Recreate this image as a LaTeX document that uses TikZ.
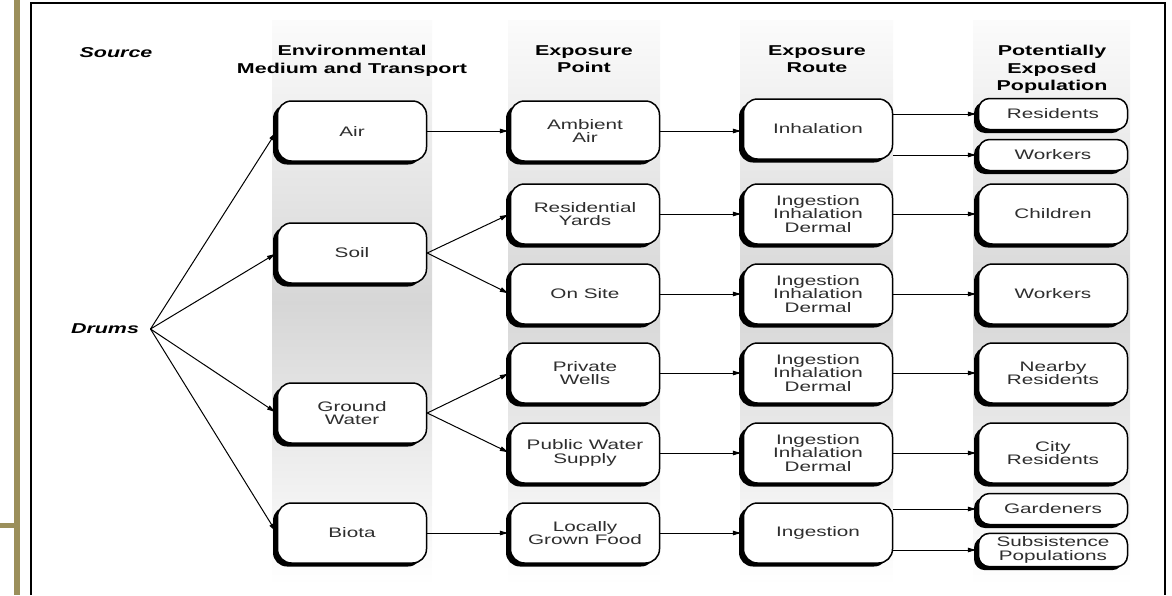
\documentclass[tikz,border=0pt]{standalone}
\usepackage{fontspec}
\setmainfont{Liberation Sans}[FakeStretch=1.5]
\usetikzlibrary{positioning, shadows, arrows.meta}
\definecolor{sidebar}{RGB}{155,143,91}

\begin{document}
\begin{tikzpicture}[x=1pt, y=-1pt, >={Latex[length=10pt,width=5pt]},
    box/.style={draw, line width=1.5pt, rounded corners=14pt, fill=white,
      text=black!82, align=center, minimum width=149pt, minimum height=60pt,
      font=\fontsize{13.8}{13.8}\selectfont,
      drop shadow={shadow xshift=-4.5pt, shadow yshift=-3.5pt, fill=black, opacity=1}},
    small/.style={box, minimum height=31pt, rounded corners=11pt},
    head/.style={font=\fontsize{14.3}{17.5}\selectfont\bfseries, align=center, anchor=north},
    band/.style={top color=gray!3, bottom color=white, middle color=gray!32},
    link/.style={->, line width=1pt}]

  \useasboundingbox (0,0) rectangle (1172,595);
  \fill[sidebar] (14,0) rectangle (20,595);
  \fill[sidebar] (0,523) rectangle (14,528);
  \draw[line width=1.2pt] (31,595) -- (31,3) -- (1165,3) -- (1165,595);

  \foreach \l/\r in {272/432, 508/660, 740/893, 973/1130}
    \fill[band] (\l,20) rectangle (\r,585);

  \node[head] (hsrc) at (116,44) {\itshape Source};
  \node[head] (hmed) at (352,42) {Environmental\\Medium and Transport};
  \node[head] (hpt) at (584,42) {Exposure\\Point};
  \node[head] (hrt) at (817,42) {Exposure\\Route};
  \node[head] (hpop) at (1052,42) {Potentially\\Exposed\\Population};

  \node[font=\fontsize{14.3}{17}\selectfont\bfseries\itshape] (drums) at (105,329) {Drums};
  \coordinate[right=8pt of drums] (fork);

  \node[box] (air) at (352,131) {Air};
  \node[box] (soil) at (352,253) {Soil};
  \node[box] (gw) at (352,413) {Ground\\Water};
  \node[box] (biota) at (352,533) {Biota};

  \node[box] (amb) at (585,131) {Ambient\\Air};
  \node[box] (yard) at (585,214) {Residential\\Yards};
  \node[box] (site) at (585,294) {On Site};
  \node[box] (well) at (585,373) {Private\\Wells};
  \node[box] (pws) at (585,453) {Public Water\\Supply};
  \node[box] (food) at (585,533) {Locally\\Grown Food};

  \node[box] (inh) at (818,129) {Inhalation};
  \node[box] (r1) at (818,214) {Ingestion\\Inhalation\\Dermal};
  \node[box] (r2) at (818,294) {Ingestion\\Inhalation\\Dermal};
  \node[box] (r3) at (818,373) {Ingestion\\Inhalation\\Dermal};
  \node[box] (r4) at (818,453) {Ingestion\\Inhalation\\Dermal};
  \node[box] (ing) at (818,533) {Ingestion};

  \node[small] (res) at (1053,114) {Residents};
  \node[small] (wk1) at (1053,155) {Workers};
  \node[box] (kids) at (1053,214) {Children};
  \node[box] (wk2) at (1053,294) {Workers};
  \node[box] (near) at (1053,373) {Nearby\\Residents};
  \node[box] (city) at (1053,453) {City\\Residents};
  \node[small] (gard) at (1053,509) {Gardeners};
  \node[small] (subs) at (1053,550) {Subsistence\\Populations};

  \foreach \t in {air, soil, gw, biota}
    \draw[link] (fork) -- (\t.west);
  \draw[link] (air.east) -- (amb.west);
  \draw[link] (soil.east) -- (yard.west);
  \draw[link] (soil.east) -- (site.west);
  \draw[link] (gw.east) -- (well.west);
  \draw[link] (gw.east) -- (pws.west);
  \draw[link] (biota.east) -- (food.west);
  \foreach \a/\b in {amb/inh, yard/r1, site/r2, well/r3, pws/r4, food/ing, r1/kids, r2/wk2, r3/near, r4/city}
    \draw[link] (\a.east) -- (\a.east -| \b.west);
  \draw[link] (inh.east |- res.west) -- (res.west);
  \draw[link] (inh.east |- wk1.west) -- (wk1.west);
  \draw[link] (ing.east |- gard.west) -- (gard.west);
  \draw[link] (ing.east |- subs.west) -- (subs.west);
\end{tikzpicture}
\end{document}
